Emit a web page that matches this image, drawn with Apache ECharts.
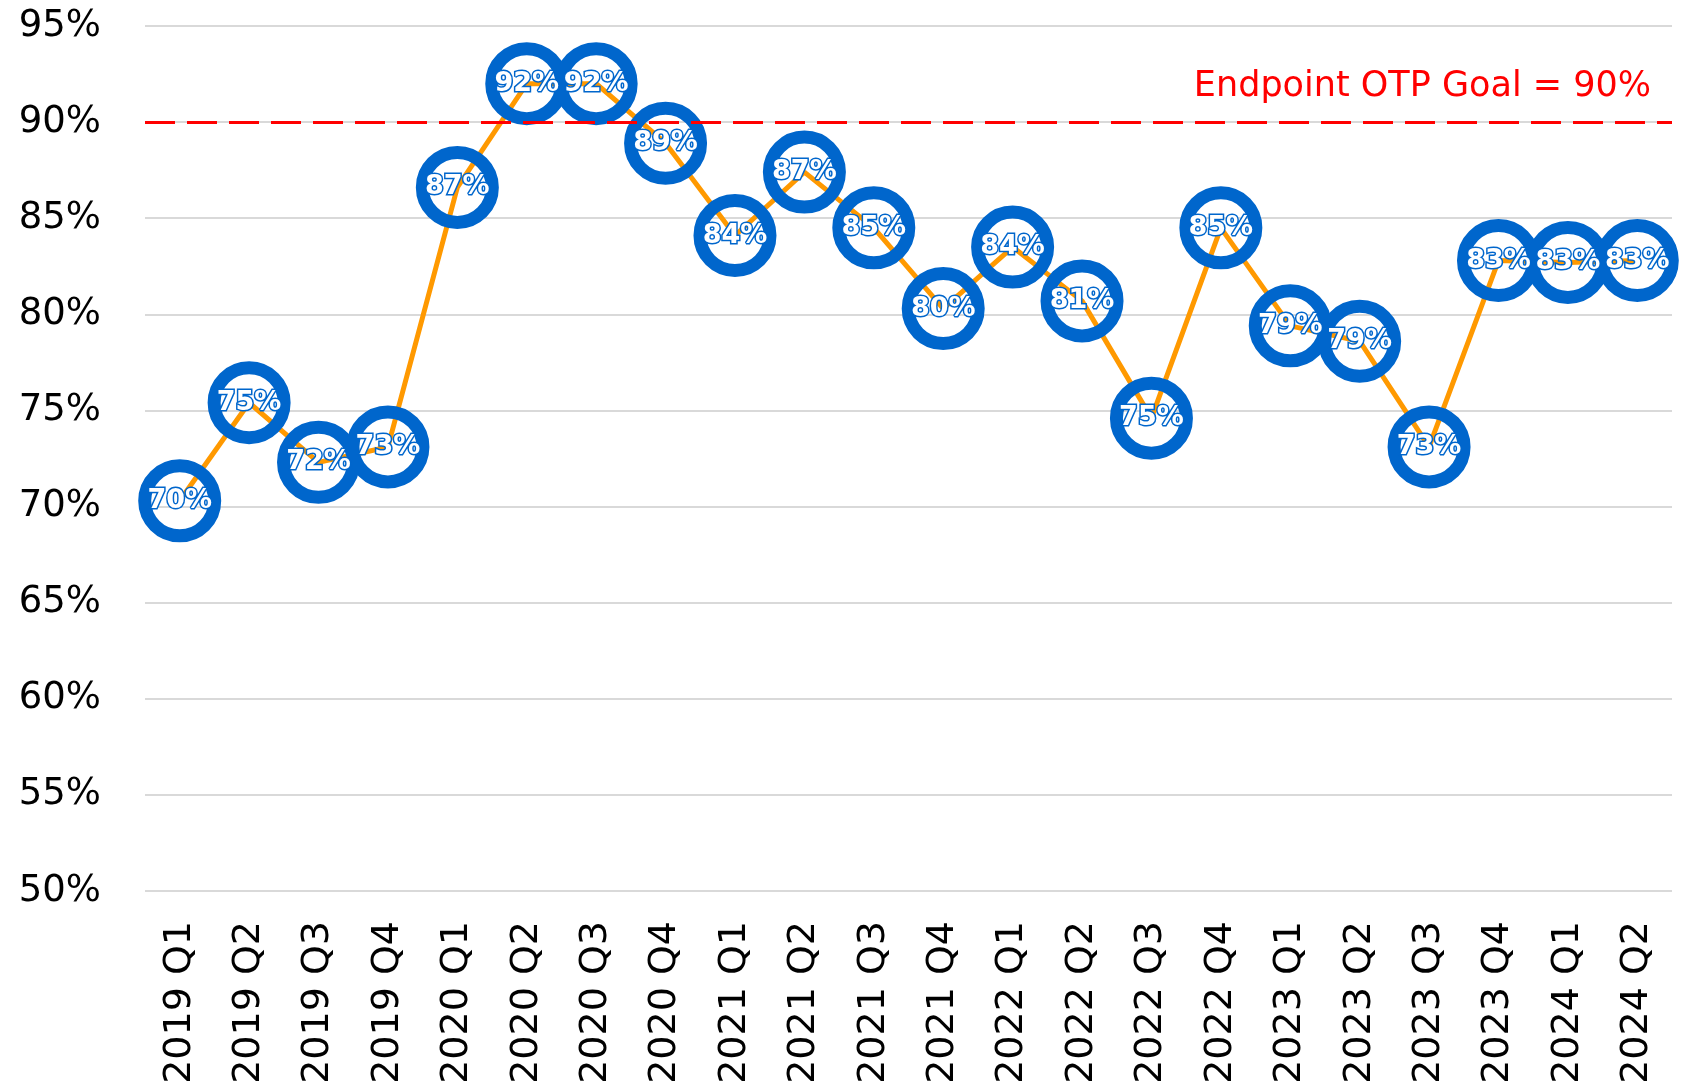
<!DOCTYPE html>
<html>
<head>
<meta charset="utf-8">
<title>Endpoint OTP</title>
<script src="https://cdn.jsdelivr.net/npm/echarts@6/dist/echarts.min.js"></script>
<style>
  html, body { margin: 0; padding: 0; background: #fff; }
  #chart { width: 1701px; height: 1091px; }
</style>
</head>
<body>
<div id="chart"></div>
<script>
// quarters on the x axis
var quarters = ['2019 Q1','2019 Q2','2019 Q3','2019 Q4',
  '2020 Q1','2020 Q2','2020 Q3','2020 Q4',
  '2021 Q1','2021 Q2','2021 Q3','2021 Q4',
  '2022 Q1','2022 Q2','2022 Q3','2022 Q4',
  '2023 Q1','2023 Q2','2023 Q3','2023 Q4',
  '2024 Q1','2024 Q2'];
// on-time performance, percent
var otp = [70.3, 75.4, 72.3, 73.1, 86.6, 92.0, 92.0, 88.9, 84.1, 87.4, 84.5,
  80.3, 83.5, 80.7, 74.6, 84.5, 79.4, 78.6, 73.1, 82.8, 82.7, 82.8];
var goal = 90;
var goalText = 'Endpoint OTP Goal = 90%';
var yTicks = { min: 50, max: 95, step: 5 };

var myChart = echarts.init(document.getElementById('chart'));
var font = 'DejaVu Sans';
var options = {
  animation: false,
  textStyle: { fontFamily: font },
  grid: { left: 145, right: 29, top: 26, bottom: 200 },
  xAxis: {
    type: 'category',
    data: quarters,
    boundaryGap: true,
    axisLine: { show: false },
    axisTick: { show: false },
    axisLabel: { rotate: 90, fontSize: 38, color: '#000', margin: 30, fontFamily: font }
  },
  yAxis: {
    type: 'value',
    min: yTicks.min, max: yTicks.max, interval: yTicks.step,
    axisLine: { show: false },
    axisTick: { show: false },
    splitLine: { lineStyle: { color: '#d9d9d9', width: 2 } },
    axisLabel: { fontSize: 37, color: '#000', margin: 44, formatter: '{value}%', fontFamily: font }
  },
  series: [{
    type: 'line',
    data: otp,
    symbol: 'circle',
    symbolSize: 70,
    lineStyle: { color: '#FF9900', width: 5 },
    itemStyle: { color: 'rgba(0,0,0,0)', borderColor: '#0066CC', borderWidth: 13 },
    label: {
      show: true,
      position: 'inside',
      formatter: function (p) { return Math.round(p.value) + '%'; },
      color: '#fff',
      fontSize: 27,
      fontWeight: 'bold',
      textBorderColor: '#0066CC',
      textBorderWidth: 3
    },
    markLine: {
      silent: true,
      symbol: 'none',
      lineStyle: { color: '#FF0000', type: [30, 12], width: 3 },
      label: {
        show: true,
        position: 'insideEndTop',
        distance: [21, 18],
        formatter: goalText,
        color: '#FF0000',
        fontSize: 35,
        fontFamily: font
      },
      data: [{ yAxis: goal }]
    },
    z: 3
  }]
};
myChart.setOption(options);
</script>
</body>
</html>
